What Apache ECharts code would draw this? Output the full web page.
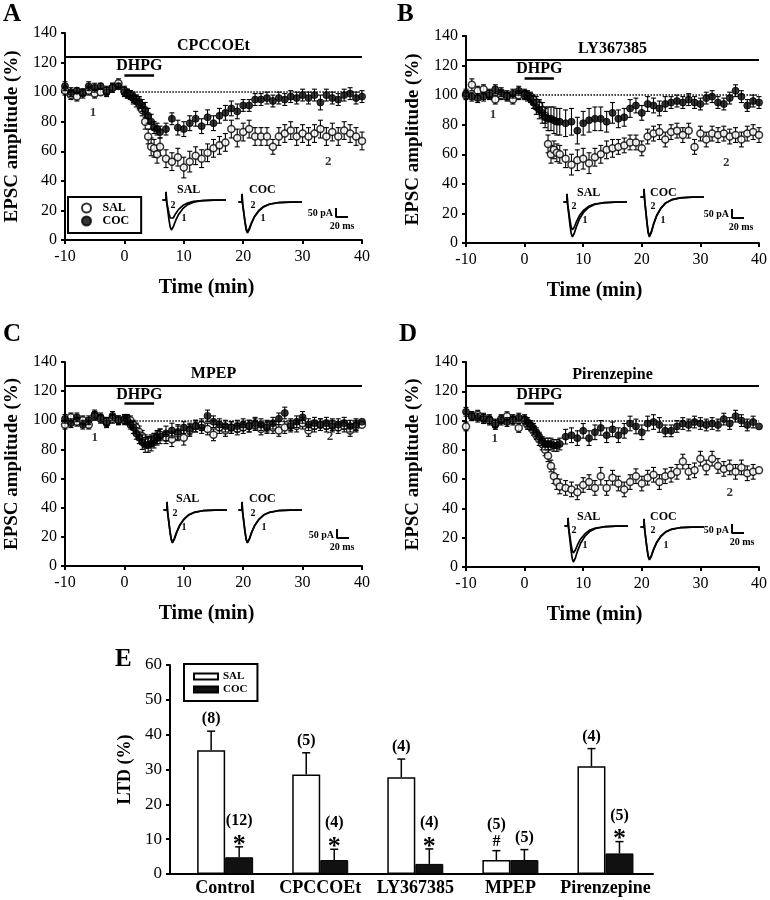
<!DOCTYPE html>
<html><head><meta charset="utf-8">
<script src="https://cdn.jsdelivr.net/npm/echarts@6/dist/echarts.min.js"></script>
<style>html,body{margin:0;padding:0;background:#fff}#c{width:770px;height:900px}</style>
</head><body><div id="c"></div>
<script>
// ---------- DATA ----------
const T = [-10,-9,-8,-7,-6,-5,-4,-3,-2,-1,0,0.5,1,1.5,2,2.5,3,3.5,4,4.5,5,5.5,6,7,8,9,10,11,12,13,14,15,16,17,18,19,20,21,22,23,24,25,26,27,28,29,30,31,32,33,34,35,36,37,38,39,40];
const X_TICKS = [-10, 0, 10, 20, 30, 40];
const Y_TICKS = [0, 20, 40, 60, 80, 100, 120, 140];

const A_SAL   = [101,98,97,100,101,99,100,101,103,106, 101,99,98,96,95,92,88,80,70,63,62,58,63, 55,53,56,49,53,57,55,59,62,64,66,75,69,73,75,70,70,70,63,70,72,74,70,72,70,72,75,70,73,70,74,72,70,67];
const A_SAL_E = [3,3,3,2,3,3,2,3,3,3, 3,3,3,3,3,4,4,5,5,6,6,6,6, 6,6,6,7,7,6,6,6,6,6,6,6,6,6,6,6,6,6,5,6,6,6,6,6,6,6,6,6,6,6,6,6,6,6];
const A_COC   = [104,100,101,99,104,103,104,100,103,104, 100,99,98,96,94,93,91,88,84,80,76,75,73, 75,82,76,75,79,82,77,83,79,84,86,89,87,91,91,95,95,96,94,96,95,97,96,98,96,98,93,98,96,95,98,99,96,97];
const A_COC_E = [3,3,2,3,3,3,2,3,3,2, 3,3,3,4,4,4,4,5,5,5,4,4,4, 4,4,5,5,5,5,5,5,5,5,5,5,5,4,4,4,4,4,4,4,4,4,4,4,4,4,5,4,4,4,4,4,4,4];

const B_SAL   = [100,107,103,104,101,97,100,99,97,100, 100,100,99,97,95,93,90,86,67,60,63,61,60, 57,53,56,57,54,58,60,63,64,65,66,68,68,64,72,74,75,70,75,76,73,76,65,74,70,74,73,74,72,73,70,74,75,73];
const B_SAL_E = [3,4,3,3,3,3,3,3,3,3, 3,3,3,3,4,4,5,5,6,6,6,6,6, 6,7,7,7,7,6,6,6,6,5,5,5,5,5,5,5,5,5,5,5,5,5,5,5,5,5,5,5,5,5,5,5,5,5];
const B_COC   = [101,99,98,99,100,104,102,100,101,103, 101,99,98,95,92,90,88,85,84,84,83,82,82, 81,82,76,81,83,84,84,82,88,84,85,91,93,88,94,93,91,94,95,96,95,97,95,94,98,99,95,94,98,103,99,93,96,95];
const B_COC_E = [3,3,3,3,3,3,3,3,3,3, 3,3,3,4,5,6,7,7,8,8,9,9,9, 9,9,9,8,8,8,8,7,7,6,6,6,5,5,5,5,5,5,4,4,4,4,4,4,4,4,4,4,4,4,4,4,4,4];

const C_SAL   = [97,102,99,100,97,103,101,99,101,100, 100,101,100,97,95,92,89,86,85,86,87,88,90, 88,87,91,88,93,96,97,94,90,95,93,95,94,95,96,97,94,96,95,93,95,97,96,98,93,96,97,96,97,95,96,93,96,97];
const C_SAL_E = [3,3,3,3,3,3,3,3,3,3, 3,3,3,3,3,4,4,4,4,4,4,4,4, 4,5,5,5,4,4,4,4,4,4,4,4,4,4,4,4,4,4,4,4,4,4,4,4,4,4,4,4,4,4,4,4,4];
const C_COC   = [101,98,102,97,100,104,102,98,103,100, 101,100,97,95,91,88,85,83,83,84,86,88,89, 91,93,92,95,94,96,95,103,99,97,96,95,96,97,96,98,97,95,98,101,105,96,99,102,97,98,97,98,96,97,98,96,97,99];
const C_COC_E = [3,3,3,3,3,3,3,3,3,3, 3,3,3,4,4,4,5,5,5,5,5,5,5, 5,5,5,4,4,4,4,4,4,4,4,4,4,4,4,4,4,4,4,4,4,4,4,4,4,4,4,4,4,4,4,4,4];

const D_SAL   = [96,103,104,102,100,98,101,103,100,95, 100,97,96,93,90,87,84,80,76,69,62,58,55, 54,53,51,56,58,54,62,54,61,57,53,58,62,57,61,63,58,62,63,65,72,65,66,74,68,74,69,67,68,65,68,64,65,66];
const D_SAL_E = [3,3,3,3,3,3,3,3,3,3, 3,3,3,3,3,4,4,4,4,4,5,5,5, 5,5,5,5,5,5,6,5,5,5,5,5,5,5,5,5,5,5,5,5,5,5,5,5,5,5,5,5,5,5,5,5,5];
const D_COC   = [106,103,102,101,101,97,100,99,101,102, 101,99,97,95,92,89,86,84,84,84,83,83,84, 89,90,88,93,88,92,95,90,94,90,93,98,96,92,98,99,97,93,93,96,98,97,99,98,97,98,97,101,98,103,100,97,99,96];
const D_COC_E = [3,3,3,3,3,3,3,3,3,3, 3,3,3,3,3,3,3,4,4,4,4,4,4, 5,5,5,5,5,5,5,5,5,5,5,5,5,5,5,5,5,4,4,4,4,4,4,4,4,4,4,4,4,4,4,4,4];

const DRUGS = ['CPCCOEt', 'LY367385', 'MPEP', 'Pirenzepine'];
const DRUG_PERIOD = [-10, 40];
const DHPG_PERIOD = [0, 5];
const BASELINE = 100;
// "1" / "2" sample-time markers [time, value, text]
const A_MARKS = [[-5.3, 86, '1'], [34.3, 53, '2']];
const B_MARKS = [[-5.4, 87, '1'], [34.4, 54.5, '2']];
const C_MARKS = [[-5.0, 88, '1'], [34.6, 88.5, '2']];
const D_MARKS = [[-5.1, 88, '1'], [35.0, 50.5, '2']];

// example EPSC traces (ms, pA)
const TRACE_MS = [-6,0,0,1,3,5,7,9,12,16,21,28,36,46,60,80,100];
const A_SAL_T1 = [0,0,45,-10,-60,-110,-150,-167,-150,-115,-80,-48,-26,-12,-4,-1,0];
const A_SAL_T2 = [0,0,45,-8,-42,-75,-100,-111,-100,-76,-52,-31,-17,-8,-3,-1,0];
const A_COC_T1 = [0,0,45,-10,-62,-113,-155,-172,-155,-118,-82,-50,-27,-12,-4,-1,0];
const A_COC_T2 = [0,0,45,-10,-58,-108,-148,-165,-148,-113,-79,-47,-25,-11,-4,-1,0];
const B_SAL_T1 = [0,0,45,-12,-70,-128,-175,-194,-175,-134,-93,-56,-30,-14,-5,-1,0];
const B_SAL_T2 = [0,0,45,-10,-56,-102,-140,-155,-140,-107,-74,-45,-24,-11,-4,-1,0];
const B_COC_T1 = [0,0,45,-13,-80,-146,-200,-222,-200,-153,-106,-64,-34,-16,-5,-1,0];
const B_COC_T2 = [0,0,45,-13,-77,-141,-194,-215,-194,-148,-103,-62,-33,-15,-5,-1,0];
const C_SAL_T1 = [0,0,45,-11,-66,-121,-165,-183,-165,-126,-88,-53,-28,-13,-4,-1,0];
const C_SAL_T2 = [0,0,45,-11,-64,-117,-160,-178,-160,-123,-85,-51,-27,-12,-4,-1,0];
const C_COC_T1 = [0,0,45,-11,-66,-121,-165,-183,-165,-126,-88,-53,-28,-13,-4,-1,0];
const C_COC_T2 = [0,0,45,-11,-65,-119,-162,-180,-162,-124,-86,-52,-28,-13,-4,-1,0];
const D_SAL_T1 = [0,0,45,-12,-72,-132,-180,-200,-180,-138,-96,-58,-31,-14,-5,-1,0];
const D_SAL_T2 = [0,0,45,-9,-54,-99,-135,-150,-135,-104,-72,-44,-23,-11,-4,-1,0];
const D_COC_T1 = [0,0,45,-11,-66,-121,-165,-183,-165,-126,-88,-53,-28,-13,-4,-1,0];
const D_COC_T2 = [0,0,45,-11,-64,-117,-160,-178,-160,-123,-85,-51,-27,-12,-4,-1,0];
const SCALE_BAR = [[0,50],[0,0],[20,0]]; // 50 pA, 20 ms

// panel E
const E_CATS = ['Control', 'CPCCOEt', 'LY367385', 'MPEP', 'Pirenzepine'];
const E_SAL   = [35.5, 28.6, 27.8, 4.0, 30.9];
const E_SAL_E = [5.5, 6.2, 5.2, 2.7, 5.1];
const E_COC   = [4.8, 4.0, 2.9, 4.0, 5.9];
const E_COC_E = [3.0, 3.1, 4.3, 3.0, 3.4];
const E_SAL_N = ['(8)', '(5)', '(4)', '(5)', '(4)'];
const E_COC_N = ['(12)', '(4)', '(4)', '(5)', '(5)'];
const E_SAL_MARK = ['', '', '', '#', ''];
const E_COC_MARK = ['*', '*', '*', '', '*'];

// ---------- LAYOUT ----------
const FONT = '"Liberation Serif","Times New Roman",serif';
const PANELS = [
  {sal:A_SAL, salE:A_SAL_E, coc:A_COC, cocE:A_COC_E, marks:A_MARKS, tr:[A_SAL_T1,A_SAL_T2,A_COC_T1,A_COC_T2],
   grid:{left:65,top:33,width:297,height:207}, namePad:14, insSal:[166,200], insCoc:[242,202], bar:[336,217],
   letter:[3,2,'A'], salLbl:[177,190], cocLbl:[249,190], s2:[173,205], s1:[184,218], c2:[253,205], c1:[263,218], pA:[333,213], ms:[342,226]},
  {sal:B_SAL, salE:B_SAL_E, coc:B_COC, cocE:B_COC_E, marks:B_MARKS, tr:[B_SAL_T1,B_SAL_T2,B_COC_T1,B_COC_T2],
   grid:{left:466,top:36,width:295,height:207}, namePad:36, insSal:[567,202], insCoc:[644,197], bar:[732,218],
   letter:[397,2,'B'], salLbl:[577,193], cocLbl:[650,193], s2:[574,206], s1:[585,220], c2:[653,206], c1:[663,220], pA:[729,214], ms:[741,227]},
  {sal:C_SAL, salE:C_SAL_E, coc:C_COC, cocE:C_COC_E, marks:C_MARKS, tr:[C_SAL_T1,C_SAL_T2,C_COC_T1,C_COC_T2],
   grid:{left:65,top:362,width:297,height:204}, namePad:14, insSal:[167,510], insCoc:[242,510], bar:[337,538],
   letter:[3,322,'C'], salLbl:[176,499], cocLbl:[249,499], s2:[175,513], s1:[184,527], c2:[253,513], c1:[264,527], pA:[334,535], ms:[342,547]},
  {sal:D_SAL, salE:D_SAL_E, coc:D_COC, cocE:D_COC_E, marks:D_MARKS, tr:[D_SAL_T1,D_SAL_T2,D_COC_T1,D_COC_T2],
   grid:{left:466,top:362,width:295,height:205}, namePad:36, insSal:[568,526], insCoc:[644,527], bar:[732,533],
   letter:[399,322,'D'], salLbl:[577,517], cocLbl:[650,517], s2:[574,530], s1:[585,545], c2:[653,530], c1:[666,545], pA:[729,530], ms:[742,542]}
];
const DRUG_Y = 124, DHPG_Y = 111.5;
const PX_MS = 0.6, PX_PA = 0.18;

// ---------- BUILD ----------
const grids = [], xAxes = [], yAxes = [], series = [], graphics = [];
function txt(x, y, s, size, align, va) {
  graphics.push({type:'text', x, y, silent:true, z:100,
    style:{text:s, font:'bold ' + size + 'px ' + FONT, fill:'#000', align:align||'left', verticalAlign:va||'middle'}});
}
function errRender(params, api) {
  const x = api.value(0), lo = api.value(1), hi = api.value(2);
  const a = api.coord([x, lo]), b = api.coord([x, hi]);
  const st = {stroke:'#000', lineWidth:1.1};
  return {type:'group', children:[
    {type:'line', shape:{x1:a[0],y1:a[1],x2:b[0],y2:b[1]}, style:st},
    {type:'line', shape:{x1:b[0]-2.5,y1:b[1],x2:b[0]+2.5,y2:b[1]}, style:st},
    {type:'line', shape:{x1:a[0]-2.5,y1:a[1],x2:a[0]+2.5,y2:a[1]}, style:st}
  ]};
}
const axisLineStyle = {color:'#000', width:2};

PANELS.forEach((p, k) => {
  const gi = grids.length;
  grids.push(p.grid);
  xAxes.push({gridIndex:gi, type:'value', min:X_TICKS[0], max:X_TICKS[X_TICKS.length-1], interval:10,
    axisLine:{onZero:false, lineStyle:axisLineStyle}, axisTick:{length:4, lineStyle:{width:2, color:'#000'}}, splitLine:{show:false},
    axisLabel:{color:'#000', fontSize:16, fontFamily:FONT, margin:9},
    name:'Time (min)', nameLocation:'middle', nameGap:38,
    nameTextStyle:{color:'#000', fontSize:20, fontWeight:'bold', fontFamily:FONT, padding:[0, p.namePad, 0, 0]}});
  yAxes.push({gridIndex:gi, type:'value', min:Y_TICKS[0], max:Y_TICKS[Y_TICKS.length-1], interval:20,
    axisLine:{show:true, onZero:false, lineStyle:axisLineStyle}, axisTick:{show:true, length:4, lineStyle:{width:2, color:'#000'}}, splitLine:{show:false},
    axisLabel:{color:'#000', fontSize:16, fontFamily:FONT, margin:8},
    name:'EPSC amplitude (%)', nameLocation:'middle', nameGap:43,
    nameTextStyle:{color:'#000', fontSize:19, fontWeight:'bold', fontFamily:FONT}});
  const common = {xAxisIndex:gi, yAxisIndex:gi, animation:false};
  series.push(Object.assign({type:'custom', name:'SAL err', renderItem:errRender, encode:{x:0, y:[1,2]}, silent:true, z:2,
    data:T.map((t,i) => [t, p.sal[i]-p.salE[i], p.sal[i]+p.salE[i]])}, common));
  series.push(Object.assign({type:'scatter', name:'SAL', symbol:'circle', symbolSize:7, z:3,
    itemStyle:{color:'#fff', borderColor:'#000', borderWidth:1.5},
    data:T.map((t,i) => [t, p.sal[i]]),
    markLine:{silent:true, symbol:'none', animation:false, label:{show:false},
      data:[
        [{coord:[1, BASELINE], lineStyle:{type:'dotted', width:1.5, color:'#000'}}, {coord:[DRUG_PERIOD[1], BASELINE]}],
        [{coord:[DRUG_PERIOD[0], DRUG_Y], lineStyle:{type:'solid', width:2, color:'#000'},
          label:{show:true, formatter:DRUGS[k], position:'insideMiddleTop', distance:3, color:'#000', fontSize:16, fontWeight:'bold', fontFamily:FONT}},
         {coord:[DRUG_PERIOD[1], DRUG_Y]}],
        [{coord:[DHPG_PERIOD[0], DHPG_Y], lineStyle:{type:'solid', width:2.5, color:'#000'},
          label:{show:true, formatter:'DHPG', position:'insideMiddleTop', distance:1, color:'#000', fontSize:16, fontWeight:'bold', fontFamily:FONT}},
         {coord:[DHPG_PERIOD[1], DHPG_Y]}]
      ]}}, common));
  series.push(Object.assign({type:'custom', name:'COC err', renderItem:errRender, encode:{x:0, y:[1,2]}, silent:true, z:4,
    data:T.map((t,i) => [t, p.coc[i]-p.cocE[i], p.coc[i]+p.cocE[i]])}, common));
  series.push(Object.assign({type:'scatter', name:'COC', symbol:'circle', symbolSize:7, z:5,
    itemStyle:{color:'#000', borderColor:'#000', borderWidth:1}, data:T.map((t,i) => [t, p.coc[i]])}, common));
  series.push(Object.assign({type:'scatter', name:'marks', symbolSize:1, itemStyle:{color:'rgba(0,0,0,0)'}, silent:true, z:6,
    data:p.marks, label:{show:true, position:'inside', formatter:q => q.data[2], color:'#000', fontSize:13, fontWeight:'bold', fontFamily:FONT}}, common));

  // insets
  [[p.insSal, p.tr[0], p.tr[1]], [p.insCoc, p.tr[2], p.tr[3]]].forEach(ins => {
    const [ax, by] = ins[0];
    const g = grids.length;
    grids.push({left: ax - 6*PX_MS, top: by - 60*PX_PA, width: 106*PX_MS, height: 300*PX_PA});
    xAxes.push({gridIndex:g, type:'value', min:-6, max:100, show:false});
    yAxes.push({gridIndex:g, type:'value', min:-240, max:60, show:false});
    [ins[1], ins[2]].forEach(tr => series.push({type:'line', xAxisIndex:g, yAxisIndex:g, symbol:'none', silent:true, animation:false, z:10,
      lineStyle:{color:'#000', width:1.7}, data:TRACE_MS.map((t,i) => [t, tr[i]])}));
  });
  // scale bar
  const sb = grids.length;
  grids.push({left:p.bar[0], top:p.bar[1] - 50*PX_PA, width:20*PX_MS, height:50*PX_PA});
  xAxes.push({gridIndex:sb, type:'value', min:0, max:20, show:false});
  yAxes.push({gridIndex:sb, type:'value', min:0, max:50, show:false});
  series.push({type:'line', xAxisIndex:sb, yAxisIndex:sb, symbol:'none', silent:true, animation:false, z:10,
    lineStyle:{color:'#000', width:2}, data:SCALE_BAR});

  txt(p.letter[0], p.letter[1], p.letter[2], 25, 'left', 'top');
  txt(p.salLbl[0], p.salLbl[1], 'SAL', 12);
  txt(p.cocLbl[0], p.cocLbl[1], 'COC', 12);
  txt(p.s2[0], p.s2[1], '2', 10, 'center');
  txt(p.s1[0], p.s1[1], '1', 10, 'center');
  txt(p.c2[0], p.c2[1], '2', 10, 'center');
  txt(p.c1[0], p.c1[1], '1', 10, 'center');
  txt(p.pA[0], p.pA[1], '50 pA', 10, 'right');
  txt(p.ms[0], p.ms[1], '20 ms', 10, 'center');
});

// panel E
const ge = grids.length;
grids.push({left:170, top:665, width:483, height:209});
xAxes.push({gridIndex:ge, type:'value', min:-0.58, max:4.5, axisLine:{onZero:false, lineStyle:axisLineStyle}, axisTick:{show:false}, splitLine:{show:false},
  axisLabel:{customValues:[0,1,2,3,4], formatter:v => E_CATS[Math.round(v)], color:'#000', fontSize:18, fontWeight:'bold', fontFamily:FONT, margin:5}});
yAxes.push({gridIndex:ge, type:'value', min:0, max:60, interval:10, axisLine:{show:true, onZero:false, lineStyle:axisLineStyle},
  axisTick:{show:true, length:4, lineStyle:{width:2, color:'#000'}}, splitLine:{show:false},
  axisLabel:{color:'#000', fontSize:17, fontFamily:FONT, margin:8},
  name:'LTD (%)', nameLocation:'middle', nameGap:33, nameTextStyle:{color:'#000', fontSize:18, fontWeight:'bold', fontFamily:FONT}});
const HALF = 14;
series.push({type:'bar', name:'SAL bars', xAxisIndex:ge, yAxisIndex:ge, barWidth:28, barGap:'0%', animation:false, silent:true,
  itemStyle:{color:'#fff', borderColor:'#000', borderWidth:1.5}, data:E_SAL.map((v,i) => [i, v])});
series.push({type:'bar', name:'COC bars', xAxisIndex:ge, yAxisIndex:ge, barWidth:28, barGap:'0%', animation:false, silent:true,
  itemStyle:{color:'#111', borderColor:'#000', borderWidth:1}, data:E_COC.map((v,i) => [i, v])});
function eRender(vals, errs, ns, marks, side) {
  return function(params, api) {
    const i = params.dataIndex;
    const top = api.coord([i, vals[i] + errs[i]]);
    const base = api.coord([i, vals[i]]);
    const x = top[0] + side * HALF;
    const st = {stroke:'#000', lineWidth:1.5};
    const ch = [
      {type:'line', shape:{x1:x, y1:base[1], x2:x, y2:top[1]}, style:st},
      {type:'line', shape:{x1:x-4, y1:top[1], x2:x+4, y2:top[1]}, style:st}
    ];
    let ny = top[1] - 12;
    if (marks[i]) {
      const star = marks[i] === '*';
      ch.push({type:'text', x:x, y:top[1] - (star ? 2 : 9),
        style:{text:marks[i], font:(star ? 'bold 26px ' : 'bold 16px ') + FONT, fill:'#000', align:'center', verticalAlign:'middle'}});
      ny = top[1] - 26;
    }
    ch.push({type:'text', x:x, y:ny, style:{text:ns[i], font:'bold 16px ' + FONT, fill:'#000', align:'center', verticalAlign:'middle'}});
    return {type:'group', children:ch};
  };
}
series.push({type:'custom', name:'SAL e', xAxisIndex:ge, yAxisIndex:ge, silent:true, animation:false, z:5,
  renderItem:eRender(E_SAL, E_SAL_E, E_SAL_N, E_SAL_MARK, -1), data:E_SAL.map((v,i) => [i, v + E_SAL_E[i]])});
series.push({type:'custom', name:'COC e', xAxisIndex:ge, yAxisIndex:ge, silent:true, animation:false, z:5,
  renderItem:eRender(E_COC, E_COC_E, E_COC_N, E_COC_MARK, 1), data:E_COC.map((v,i) => [i, v + E_COC_E[i]])});
txt(115, 647, 'E', 25, 'left', 'top');

const option = {
  animation:false,
  backgroundColor:'#fff',
  grid:grids, xAxis:xAxes, yAxis:yAxes, series:series,
  graphic:{elements:graphics},
  legend:[
    {data:['SAL','COC'], left:68, top:197, orient:'vertical', selectedMode:false,
     borderColor:'#000', borderWidth:2, padding:[5,12,6,13], itemGap:1, itemWidth:22, itemHeight:9,
     textStyle:{color:'#000', fontSize:12, fontWeight:'bold', fontFamily:FONT}},
    {data:['SAL bars','COC bars'], left:184, top:664, orient:'vertical', selectedMode:false, icon:'rect',
     borderColor:'#000', borderWidth:2, padding:[7,10,6,9], itemGap:2, itemWidth:24, itemHeight:6,
     formatter:n => n.split(' ')[0],
     textStyle:{color:'#000', fontSize:11, fontWeight:'bold', fontFamily:FONT}}
  ]
};
const chart = echarts.init(document.getElementById('c'), null, {renderer:'canvas'});
chart.setOption(option);
</script>
</body></html>
